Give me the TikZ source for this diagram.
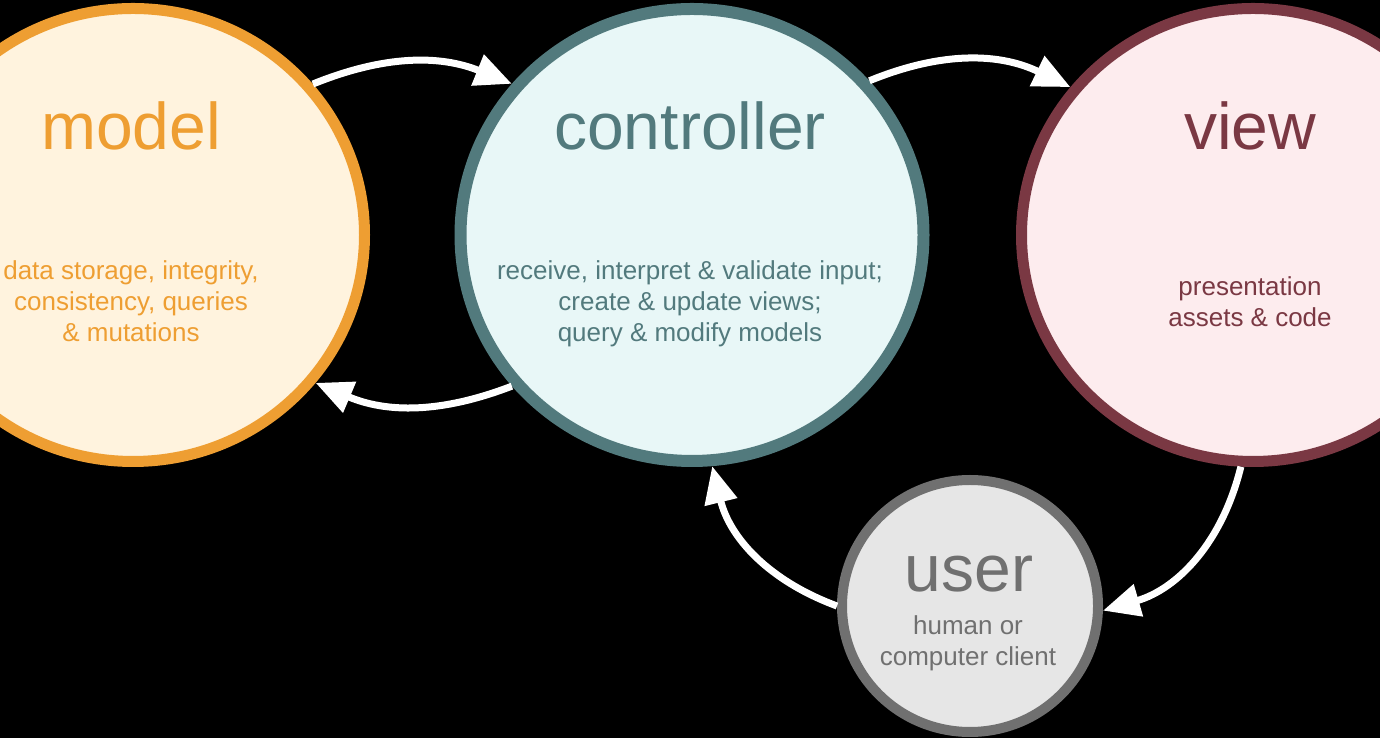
\documentclass[tikz,border=0pt]{standalone}
\usepackage{fontspec}
\setmainfont{Liberation Sans}
\usetikzlibrary{shapes.geometric,arrows.meta}
\definecolor{mborder}{RGB}{238,158,50}
\definecolor{mfill}{RGB}{255,243,222}
\definecolor{cborder}{RGB}{82,122,125}
\definecolor{cfill}{RGB}{232,247,247}
\definecolor{vborder}{RGB}{122,56,67}
\definecolor{vfill}{RGB}{253,236,238}
\definecolor{uborder}{RGB}{112,112,112}
\definecolor{ufill}{RGB}{230,230,230}
\begin{document}
\begin{tikzpicture}[x=1pt,y=1pt,
  bigcirc/.style={ellipse, inner sep=0pt, minimum width=463pt, minimum height=453pt, line width=11pt},
  title/.style={inner sep=0pt, anchor=base, font=\fontsize{66}{70}\selectfont},
  body/.style={inner sep=0pt, anchor=north, align=center, font=\fontsize{26}{31}\selectfont},
  flow/.style={draw=white, line width=7pt, -{Triangle[length=37pt,width=32pt]}}]
\useasboundingbox (0,0) rectangle (1380,738);
\fill[black] (0,0) rectangle (1380,738);
\clip (0,0) rectangle (1380,738);
% circles
\node[bigcirc, draw=mborder, fill=mfill] (model) at (133,503) {};
\node[bigcirc, draw=cborder, fill=cfill, line width=12pt, minimum width=463pt, minimum height=452pt] (ctrl) at (692,503) {};
\node[bigcirc, draw=vborder, fill=vfill] (view) at (1253,503) {};
\node[ellipse, inner sep=0pt, minimum width=256pt, minimum height=252pt, line width=10pt, draw=uborder, fill=ufill] (user) at (970,132) {};
% titles
\node[title, text=mborder] (mt) at (131,588) {model};
\node[title, text=cborder] (ct) at (690,588) {controller};
\node[title, text=vborder] (vt) at (1250,588) {view};
\node[title, text=uborder] (ut) at (969,146) {user};
% bodies
\node[body, text=mborder] (mb) at (131,480.7) {\strut data storage, integrity,\\\strut consistency, queries\\\strut \& mutations};
\node[body, text=cborder] (cb) at (690,480.7) {\strut receive, interpret \& validate input;\\\strut create \& update views;\\\strut query \& modify models};
\node[body, text=vborder] (vb) at (1250,464.7) {\strut presentation\\\strut assets \& code};
\node[body, text=uborder] (ub) at (968,125.2) {\strut human or\\\strut computer client};
% arrows
\draw[flow] (model.40) to[bend left=22] (ctrl.140);
\draw[flow] (ctrl.220) to[bend left=22] (model.-39);
\draw[flow] (ctrl.41) to[bend left=24] (view.141);
\draw[flow] (view.267) to[bend left=30] (user.-2);
\draw[flow] (user.180) to[bend left=28] (ctrl.-85);
\end{tikzpicture}
\end{document}
